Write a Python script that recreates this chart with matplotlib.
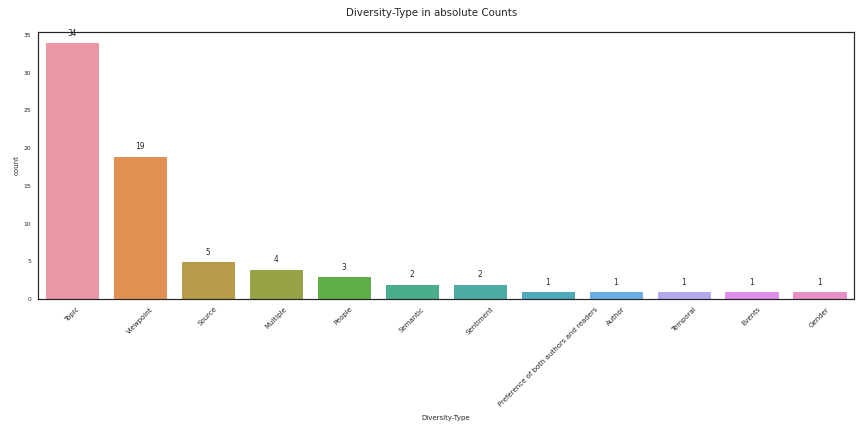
import matplotlib
matplotlib.use('Agg')
from matplotlib import pyplot as plt
import seaborn as sns

categories = ['Topic', 'Viewpoint', 'Source', 'Multiple', 'People', 'Semantic',
              'Sentiment', 'Preference of both authors and readers', 'Author',
              'Temporal', 'Events', 'Gender']
counts = [34, 19, 5, 4, 3, 2, 2, 1, 1, 1, 1, 1]

sns.set_style('white')
plt.rcParams['font.family'] = ['DejaVu Sans']

# same colours seaborn's countplot picks for many categories
colors = [sns.desaturate(c, 0.75) for c in sns.husl_palette(len(categories), l=.7)]

fig = plt.figure(figsize=(12, 6), dpi=72)
ax = fig.add_axes([0.044, 0.308, 0.944, 0.619])

x = list(range(len(categories)))
bars = ax.bar(x, counts, width=0.8, color=colors)
ax.set_xlim(-0.5, len(categories) - 0.5)
ax.set_ylim(0, 35.45)

for b, v in zip(bars, counts):
    ax.annotate(str(v), (b.get_x() + b.get_width() / 2, b.get_height()),
                xytext=(0, 9), textcoords='offset points',
                ha='center', va='center', fontsize=7.5, color='0.15')

ax.set_xticks(x)
ax.set_xticklabels(categories, rotation=45, fontsize=7)
ax.set_yticks(range(0, 36, 5))
ax.tick_params(axis='y', labelsize=6)
ax.set_xlabel('Diversity-Type', fontsize=7, labelpad=8)
ax.set_ylabel('count', fontsize=7)
fig.suptitle('Diversity-Type in absolute Counts', fontsize=10.3,
             x=0.5, y=0.97, va='center', color='0.15')
for s in ax.spines.values():
    s.set_color('0.15')
    s.set_linewidth(1.2)

fig.savefig('out.png', dpi=72)
